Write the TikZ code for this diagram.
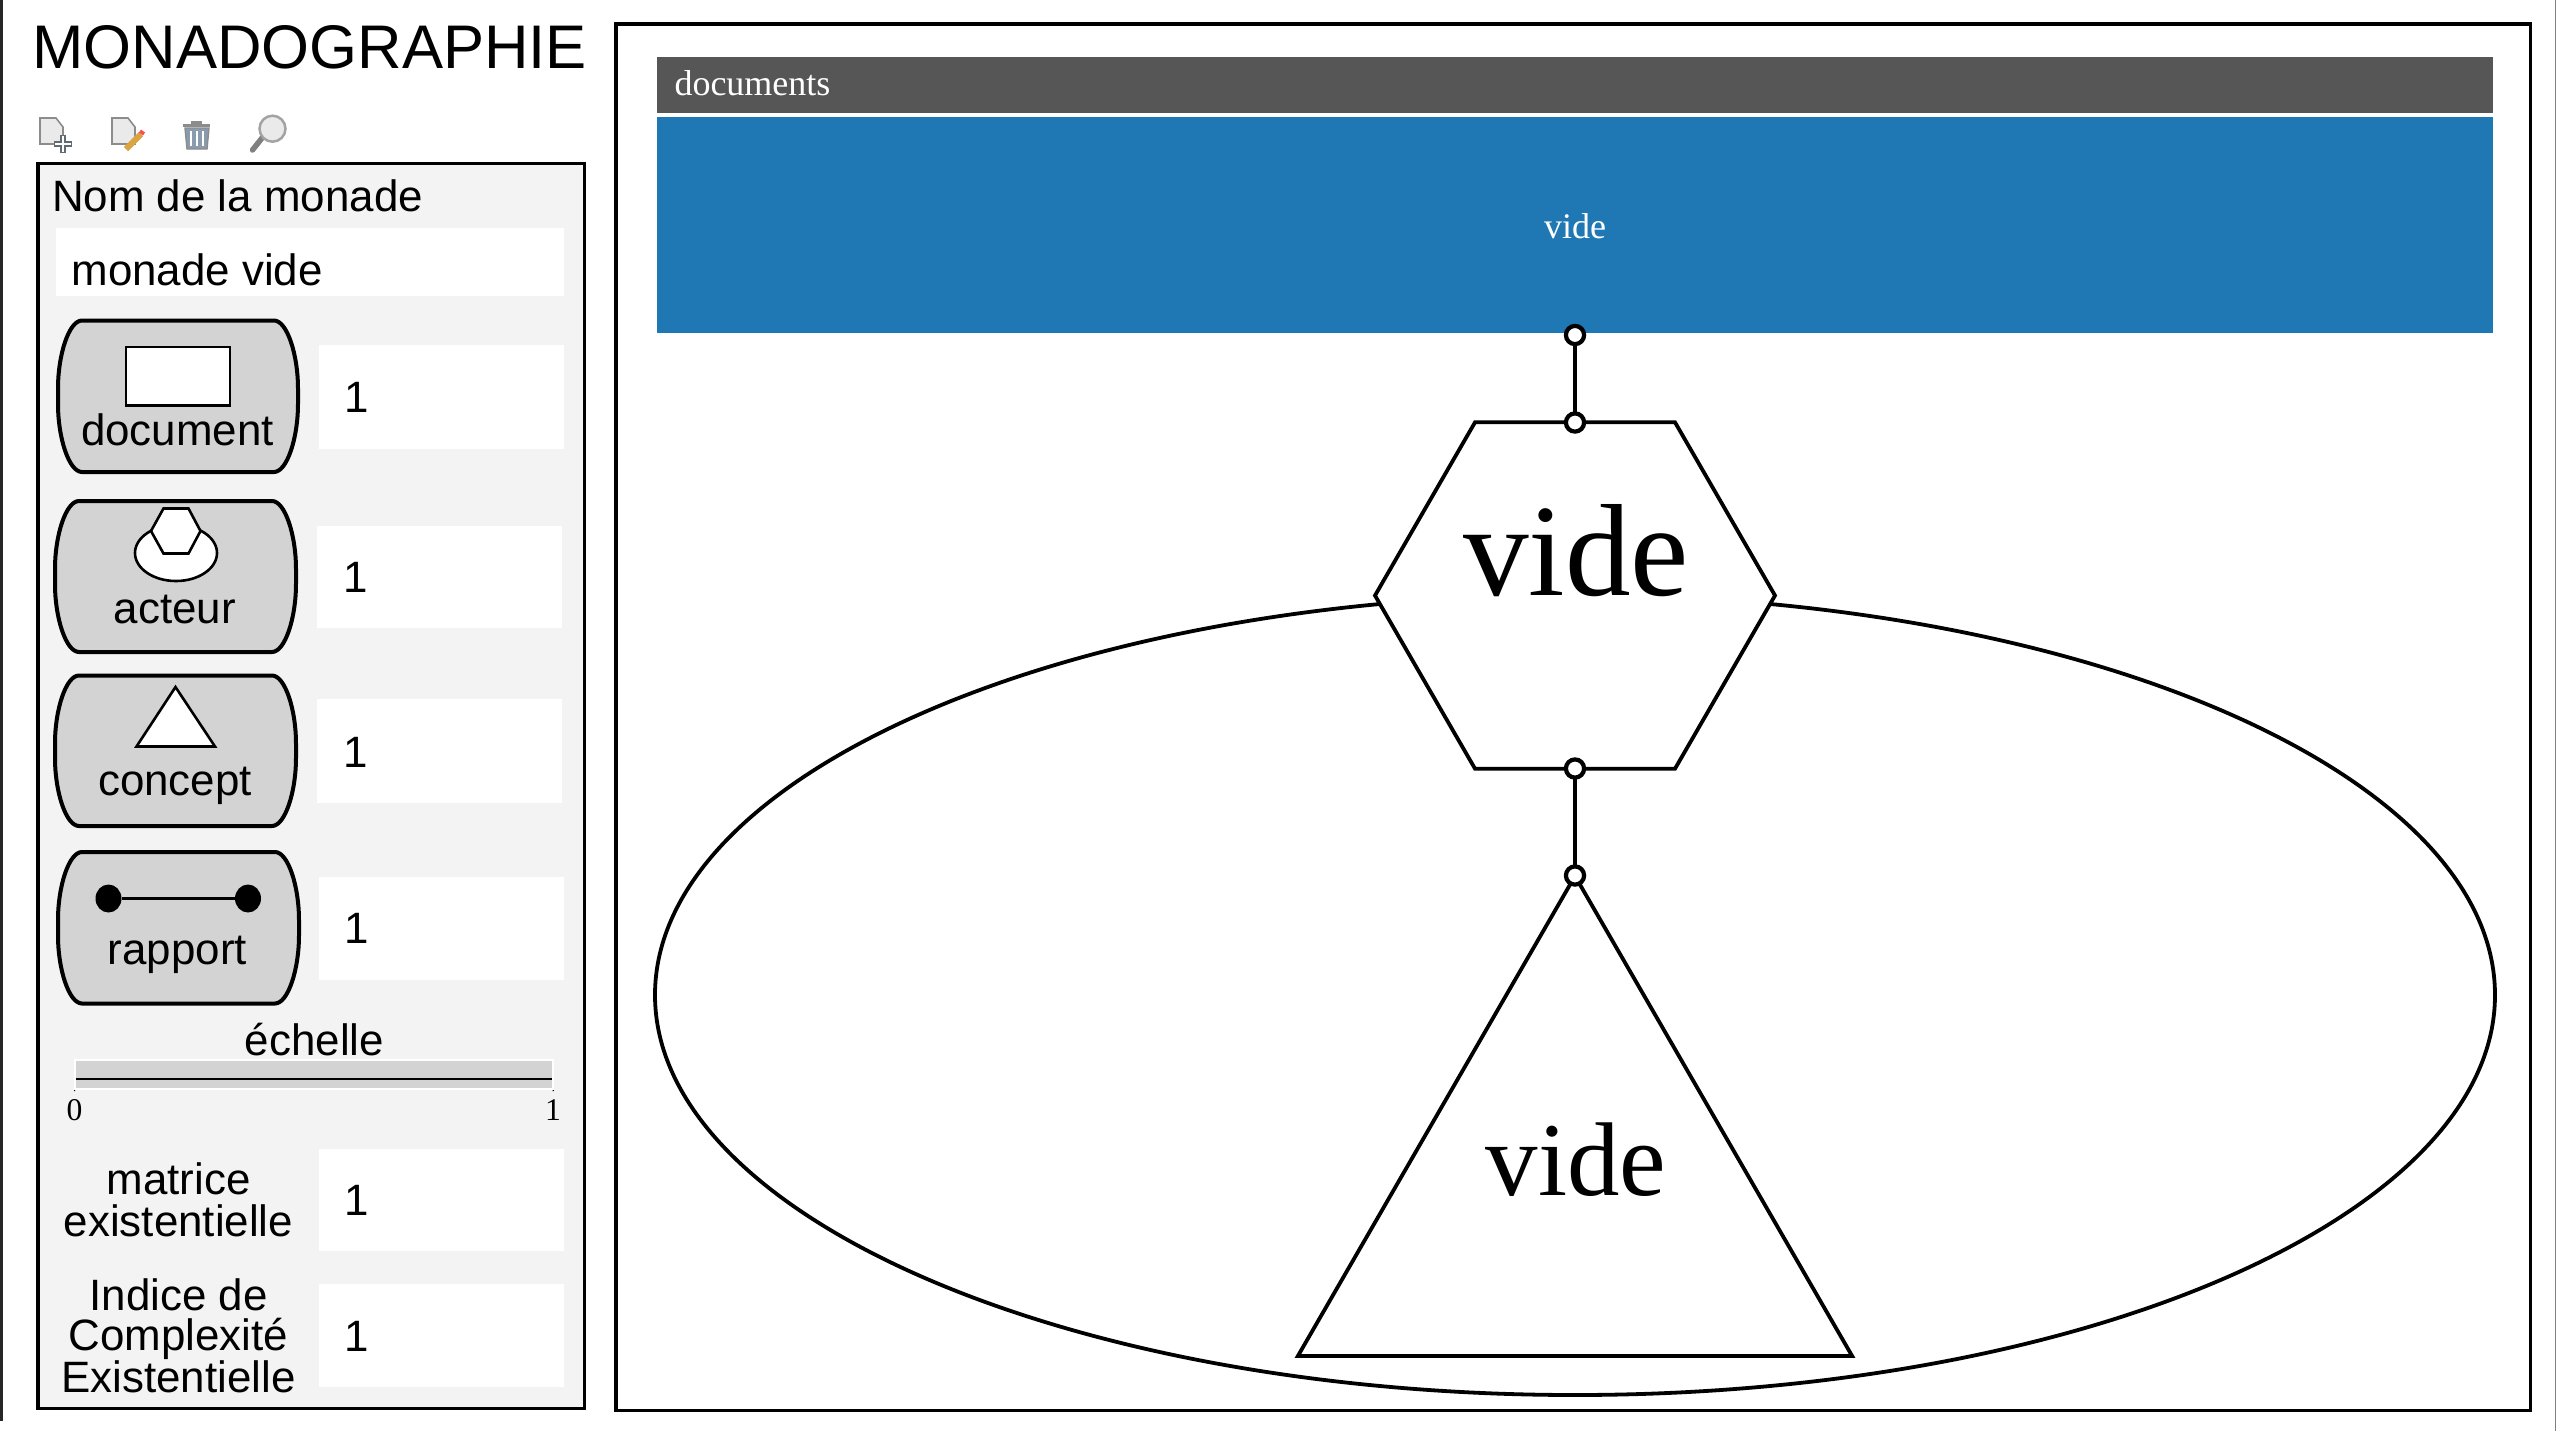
\documentclass[tikz,border=0pt]{standalone}
\usepackage{fontspec}
\usetikzlibrary{shapes.geometric}
\setmainfont{Liberation Serif}
\newfontfamily\arialf{Liberation Sans}
\definecolor{panelbg}{HTML}{F3F3F3}
\definecolor{btnbg}{HTML}{D3D3D3}
\definecolor{headbg}{HTML}{565656}
\definecolor{bluebg}{HTML}{1F77B4}
\definecolor{icong}{HTML}{EAEAEA}
\definecolor{iconl}{HTML}{8C8C8C}
\definecolor{icond}{HTML}{5F6B75}
\definecolor{trashb}{HTML}{8A9BAE}
\definecolor{pencil}{HTML}{D9A441}
\tikzset{
  px/.style={line width=#1*0.5pt},
  heavy/.style={draw=black,px=3.8},
  lab/.style={anchor=base,inner sep=0pt,outer sep=0pt,font=\arialf\fontsize{21.95pt}{21pt}\selectfont},
  labw/.style={lab,anchor=base west},
  serif/.style={anchor=base,inner sep=0pt,outer sep=0pt},
  inbox/.style={fill=white,draw=none},
  btnshape/.style={draw=black,px=4,fill=btnbg},
  iconline/.style={draw=black,px=2.6,fill=white},
  port/.style={circle,draw=black,px=4.2,fill=white,minimum size=9.1pt,inner sep=0pt,outer sep=0pt},
  link/.style={draw=black,px=4},
  shapeline/.style={draw=black,px=3.8,inner sep=0pt,outer sep=0pt},
  docicon/.style={draw=iconl,px=1.6,fill=icong}
}
\newcommand{\btnpath}[4]{% x1 y1 x2 y2
  \path[btnshape] ({#1+24},#2) -- ({#3-24},#2)
    .. controls ({#3-11},#2) and (#3,{#2+34}) .. (#3,{#2+68})
    -- (#3,{#4-68})
    .. controls (#3,{#4-34}) and ({#3-11},#4) .. ({#3-24},#4)
    -- ({#1+24},#4)
    .. controls ({#1+11},#4) and (#1,{#4-34}) .. (#1,{#4-68})
    -- (#1,{#2+68})
    .. controls (#1,{#2+34}) and ({#1+11},#2) .. ({#1+24},#2) -- cycle;
}
\begin{document}
\begin{tikzpicture}[x=0.5pt,y=-0.5pt]
\useasboundingbox (0,0) rectangle (2556,1431);
\fill[white] (0,0) rectangle (2556,1431);
% screen edges
\fill[black!85] (0,0) rectangle (2.5,1421);
\fill[gray] (2554.5,0) rectangle (2556,1431);

% title
\node[labw,font=\arialf\fontsize{30.8pt}{32pt}\selectfont] (title) at (32.5,68.5) {MONADOGRAPHIE};

% toolbar icons
\path[docicon] (40,118) -- (56,118) -- (63,127) -- (63,144) -- (40,144) -- cycle;
\draw[icond,px=6] (63,135) -- (63,153) (54,144) -- (72,144);
\draw[white,px=2.6] (63,136) -- (63,152) (55,144) -- (71,144);
\path[docicon] (112,118) -- (128,118) -- (135,127) -- (135,144) -- (112,144) -- cycle;
\draw[pencil,px=6] (141,134) -- (126,149);
\draw[red!70,px=5] (141,134) -- (143,131);
\path[fill=trashb,draw=iconl,px=1.4] (185,128) -- (209,128) -- (207,149) -- (187,149) -- cycle;
\draw[white,px=1.4] (191,131) -- (191,146) (197,131) -- (197,146) (203,131) -- (203,146);
\draw[iconl,px=3] (182.5,125) -- (210,125) (191,122) -- (202,122);
\draw[gray,px=5.5,line cap=round] (262,138) -- (252.5,150);
\draw[iconl!80,fill=icong,px=2.5] (272.5,128.7) circle (13);

% left panel
\path[heavy,fill=panelbg] (38,163.5) rectangle (584.5,1408.5);
\node[labw] (nomlab) at (52,211.5) {Nom de la monade};
\path[inbox] (55.5,227.5) rectangle (563.5,296);
\node[labw] (nomval) at (71.5,285.5) {monade vide};

% document
\btnpath{58}{320.5}{298}{472}
\path[iconline] (126,347) rectangle (230,405.5);
\node[lab] (doclab) at (177.5,445.5) {document};
\path[inbox] (319,345) rectangle (564,448.5);
\node[labw] (docval) at (344.5,412.5) {1};

% acteur
\btnpath{55}{501}{296}{652}
\path[iconline] (176,553) ellipse (41 and 28);
\path[iconline] (163.5,508.5) -- (188.5,508.5) -- (200.5,531) -- (188.5,553.5) -- (163.5,553.5) -- (151,531) -- cycle;
\node[lab] (actlab) at (175,623.5) {acteur};
\path[inbox] (317,525.5) rectangle (562,628);
\node[labw] (actval) at (343,592.5) {1};

% concept
\btnpath{55}{675.5}{296}{826}
\path[iconline] (175.5,687) -- (215,746.5) -- (136.5,746.5) -- cycle;
\node[lab] (conlab) at (175,795) {concept};
\path[inbox] (316.5,699) rectangle (562,802.5);
\node[labw] (conval) at (343,767.5) {1};

% rapport
\btnpath{58}{852}{299}{1003.5}
\node[ellipse,fill=black,minimum width=13pt,minimum height=14pt,inner sep=0pt] (dota) at (108.5,898.5) {};
\node[ellipse,fill=black,minimum width=13pt,minimum height=14pt,inner sep=0pt] (dotb) at (248,898.5) {};
\draw[black,px=2.2] (dota) -- (dotb);
\node[lab] (raplab) at (177.5,964.5) {rapport};
\path[inbox] (318.5,876.5) rectangle (564,979.5);
\node[labw] (rapval) at (344.5,943) {1};

% echelle
\node[lab] (echlab) at (314.5,1055.5) {échelle};
\path[fill=btnbg,draw=white,px=2] (75,1059.5) rectangle (553,1088.5);
\draw[black,px=2.4] (76,1079) -- (552,1079);
\fill[black] (74,1090) rectangle (75.2,1091.2) (552.6,1090) rectangle (553.8,1091.2);
\node[serif,font=\fontsize{15.8pt}{16pt}\selectfont] (tick0) at (74.5,1120.5) {0};
\node[serif,font=\fontsize{15.8pt}{16pt}\selectfont] (tick1) at (553,1120.5) {1};

% matrice
\node[lab] (mat1) at (178.5,1194.5) {matrice};
\node[lab] (mat2) at (178.5,1236.5) {existentielle};
\path[inbox] (319,1148.5) rectangle (564,1250.5);
\node[labw] (matval) at (344.5,1215.5) {1};

% indice
\node[lab] (ind1) at (178.5,1310) {Indice de};
\node[lab] (ind2) at (178.5,1350.5) {Complexité};
\node[lab] (ind3) at (178.5,1392.5) {Existentielle};
\path[inbox] (319,1284) rectangle (564,1386.5);
\node[labw] (indval) at (344.5,1351) {1};

% main frame
\path[heavy] (616,24) rectangle (2530.5,1410.5);
\node[fill=headbg,minimum width=918pt,minimum height=28pt,inner sep=0pt,outer sep=0pt] (head) at (1575,85) {};
\node[serif,anchor=base west,text=white,font=\fontsize{18pt}{20pt}\selectfont] (headtxt) at (674.5,95) {documents};
\node[fill=bluebg,minimum width=918pt,minimum height=108pt,inner sep=0pt,outer sep=0pt] (blue) at (1575,225) {};
\node[serif,text=white,font=\fontsize{18pt}{20pt}\selectfont] (bluetxt) at (1575,238) {vide};

% diagram
\node[ellipse,shapeline,minimum width=920pt,minimum height=400pt] (ell) at (1575,995) {};
\node[regular polygon,regular polygon sides=6,shapeline,fill=white,minimum size=200pt] (hex) at (1575,595.5) {};
\node[regular polygon,regular polygon sides=3,shapeline,fill=white,minimum size=320pt] (tri) at (1575,1196) {};
\node[serif,font=\fontsize{65.6pt}{70pt}\selectfont] (hextxt) at (1576,595) {vide};
\node[serif,font=\fontsize{52.4pt}{56pt}\selectfont] (tritxt) at (1576,1195.5) {vide};

\node[port] (p1) at (1575,335) {};
\node[port] (p2) at (1575,422.5) {};
\node[port] (p3) at (1575,768.5) {};
\node[port] (p4) at (1575,875.5) {};
\draw[link] (p1) -- (p2);
\draw[link] (p3) -- (p4);
\end{tikzpicture}
\end{document}
